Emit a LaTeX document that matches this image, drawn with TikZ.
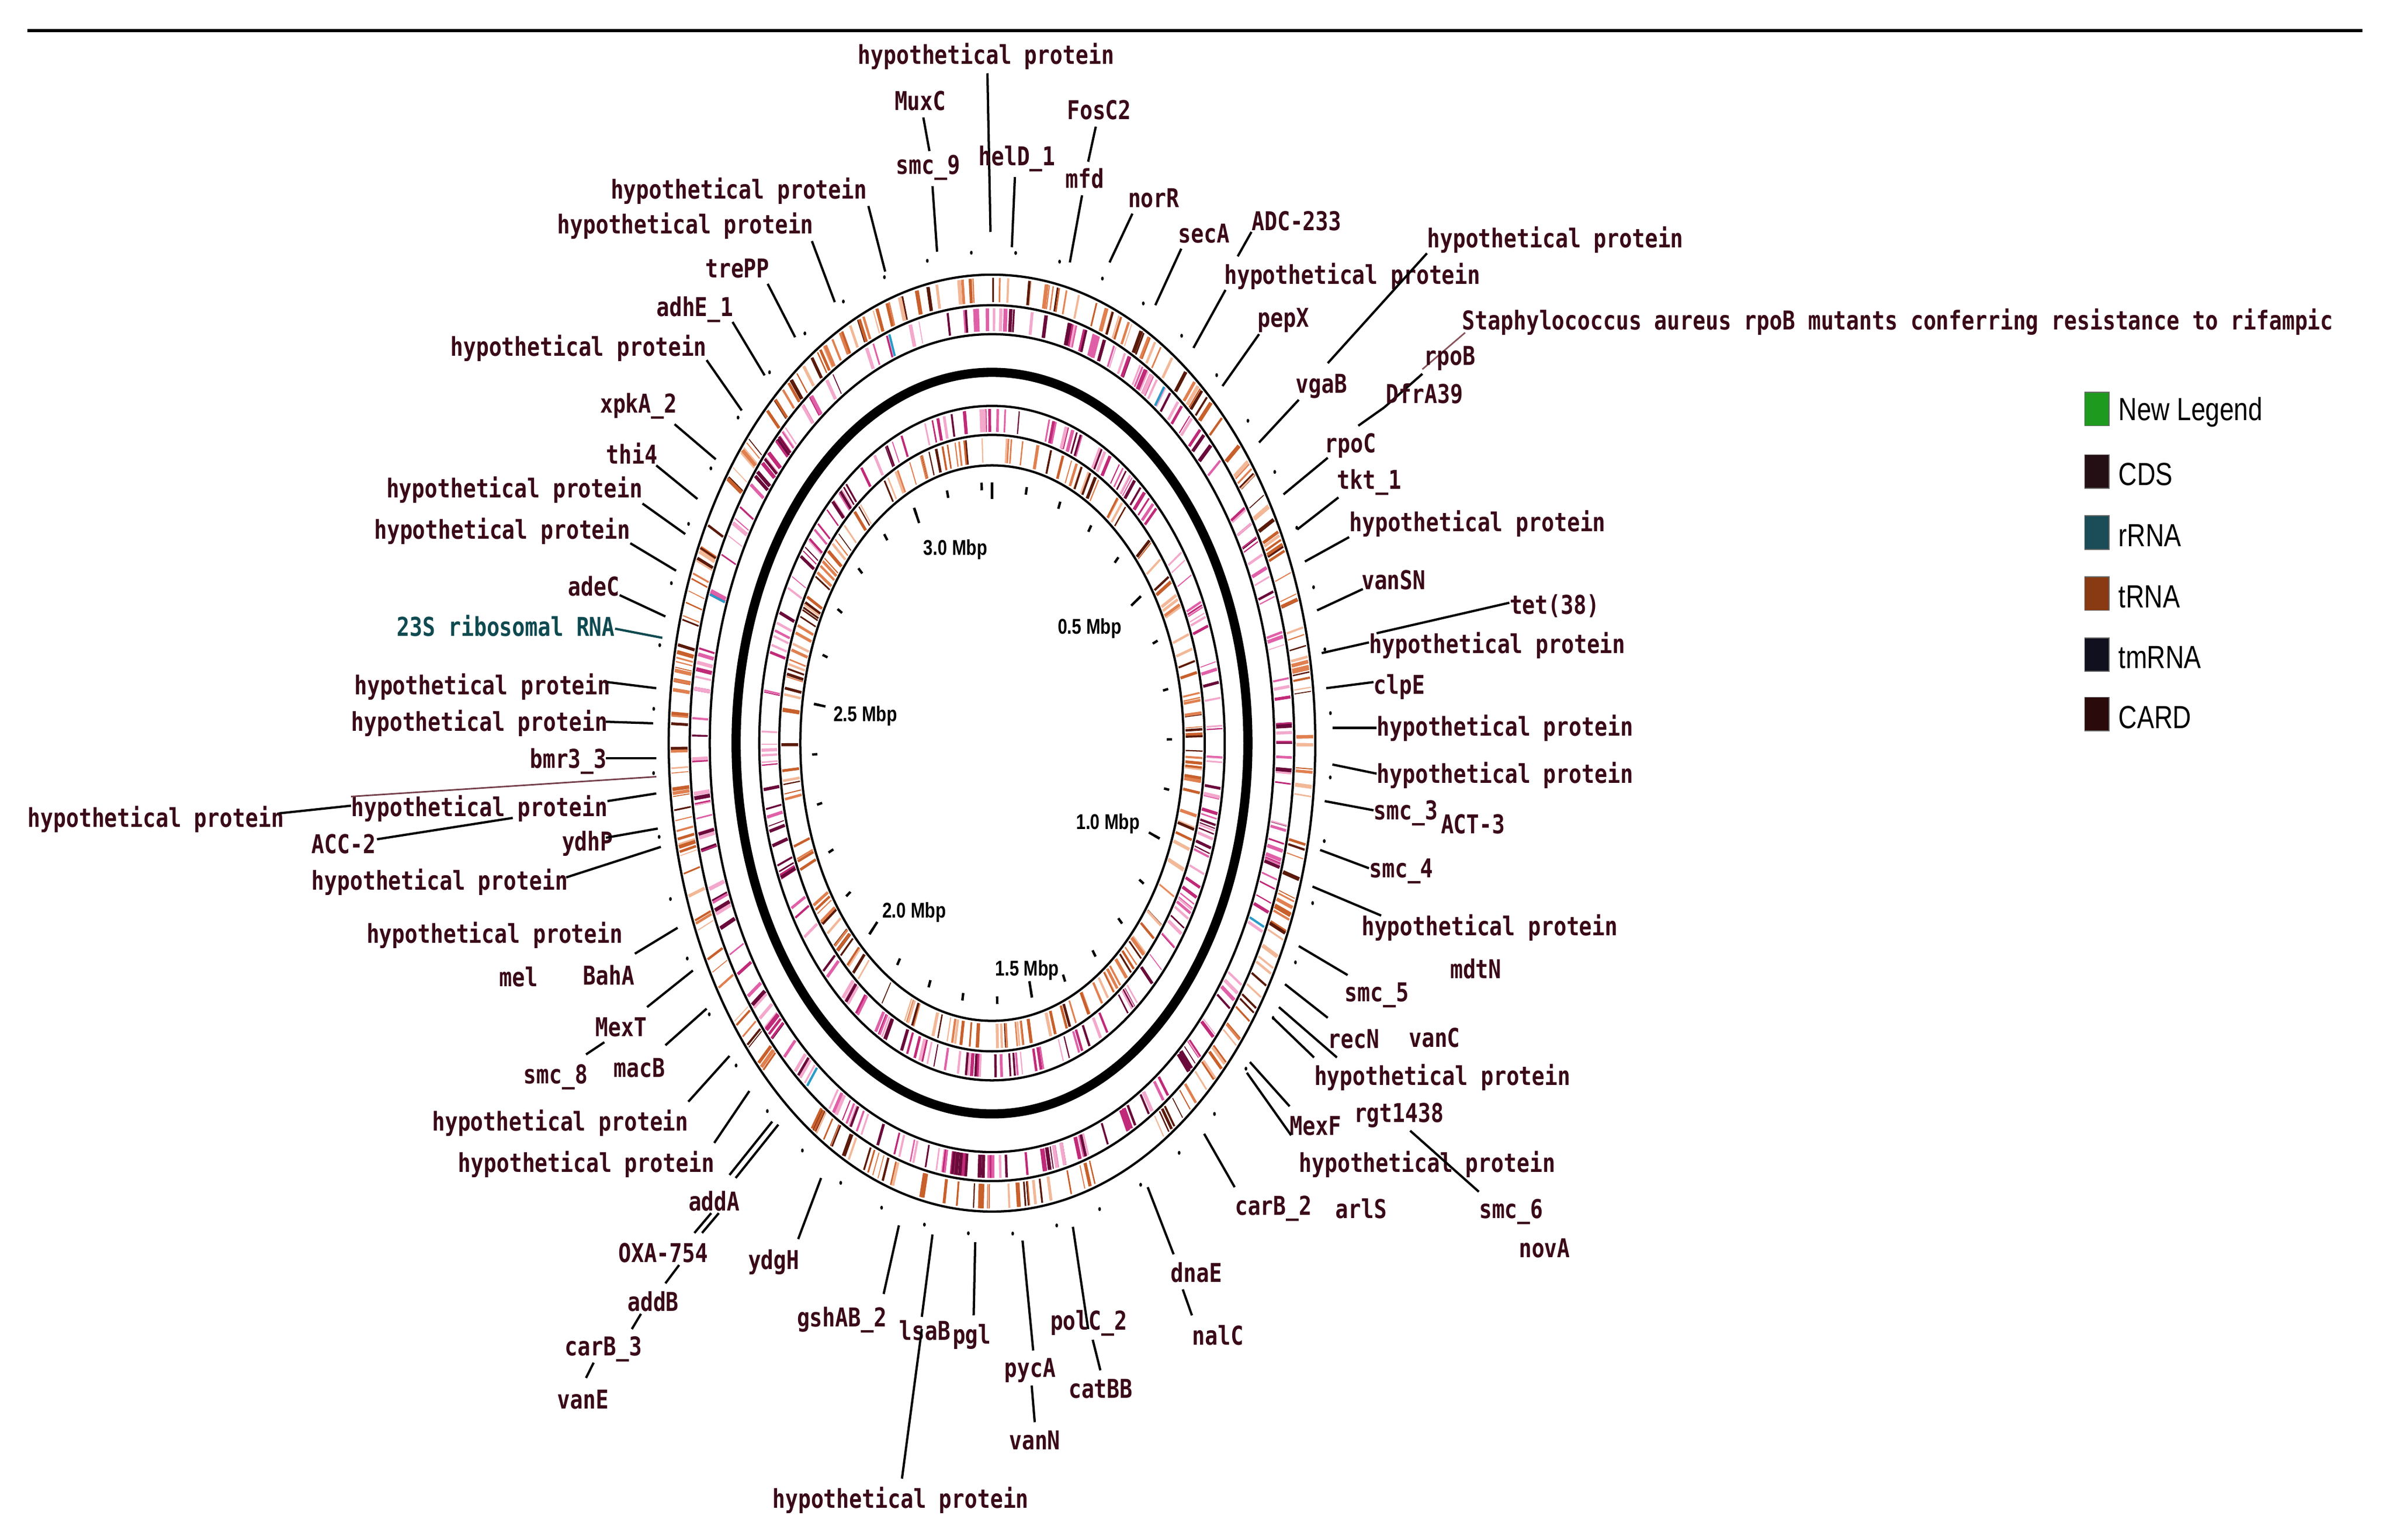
\documentclass[tikz,border=0pt]{standalone}
\usepackage{fontspec}
\newfontfamily\labfont[FakeStretch=0.82]{DejaVu Sans Mono}
\newfontfamily\legfont[FakeStretch=0.8]{Liberation Sans}
\definecolor{labcol}{HTML}{3A0A18}
\definecolor{rnacol}{HTML}{0E4A50}
\definecolor{oA}{HTML}{F2B898}
\definecolor{oB}{HTML}{C8602C}
\definecolor{oC}{HTML}{5A1A0A}
\definecolor{oD}{HTML}{E08050}
\definecolor{mA}{HTML}{F3A8CC}
\definecolor{mB}{HTML}{C02A78}
\definecolor{mC}{HTML}{6A0A3A}
\definecolor{mD}{HTML}{E060A8}
\definecolor{lgGreen}{HTML}{1E9A1E}
\definecolor{lgCDS}{HTML}{241014}
\definecolor{lgRNA}{HTML}{1A4D58}
\definecolor{lgT}{HTML}{8A3A12}
\definecolor{lgTm}{HTML}{10101E}
\definecolor{lgCard}{HTML}{2A0A0A}
\tikzset{
  lab/.style={inner sep=0pt, anchor=west, text=labcol, font=\labfont\bfseries\fontsize{17}{17}\selectfont},
  spoke/.style={draw=black, line width=1.5pt},
  ring/.style={draw=black, line width=1.5pt},
  legbox/.style={minimum width=16pt, minimum height=22pt, inner sep=0pt, draw=black!60, line width=0.6pt},
  legtxt/.style={anchor=west, inner sep=0pt, font=\legfont\fontsize{21}{21}\selectfont},
  mbp/.style={inner sep=0pt, font=\legfont\bfseries\fontsize{14}{14}\selectfont}
}
\newcommand{\genelab}[8]{%
  \node[lab] (#1) at (#2,#3) {#4};
  \coordinate (#1s) at (#5,#6);
  \coordinate (#1e) at (#7,#8);
  \draw[spoke] (#1s) -- (#1e);}
\begin{document}
\begin{tikzpicture}[x=1pt,y=-1pt]
\useasboundingbox (0,0) rectangle (1568,1009);
\fill[white] (0,0) rectangle (1568,1009);
\draw[line width=2pt] (18,20) -- (1548,20);
% ---------- rings ----------
\begin{scope}[shift={(650,487)}, xscale=0.69]
  \pgfmathsetseed{11}
  % band 1 orange (outer)
  \foreach \i in {1,...,260}{
    \pgfmathsetmacro{\a}{random(0,3600)/10}
    \pgfmathrandominteger{\c}{1}{4}
    \pgfmathsetmacro{\w}{0.6+random(0,20)/10}
    \ifcase\c\or\def\cc{oA}\or\def\cc{oB}\or\def\cc{oC}\or\def\cc{oD}\fi
    \draw[\cc, line width=\w pt] (\a:289) -- (\a:305);
  }
  % band 2 magenta
  \foreach \i in {1,...,260}{
    \pgfmathsetmacro{\a}{random(0,3600)/10}
    \pgfmathrandominteger{\c}{1}{4}
    \pgfmathsetmacro{\w}{0.6+random(0,20)/10}
    \ifcase\c\or\def\cc{mA}\or\def\cc{mB}\or\def\cc{mC}\or\def\cc{mD}\fi
    \draw[\cc, line width=\w pt] (\a:270) -- (\a:285);
  }
  % band 3 magenta inner
  \foreach \i in {1,...,200}{
    \pgfmathsetmacro{\a}{random(0,3600)/10}
    \pgfmathrandominteger{\c}{1}{4}
    \pgfmathsetmacro{\w}{0.6+random(0,16)/10}
    \ifcase\c\or\def\cc{mA}\or\def\cc{mB}\or\def\cc{mC}\or\def\cc{mD}\fi
    \draw[\cc, line width=\w pt] (\a:204) -- (\a:219);
  }
  % band 4 orange inner
  \foreach \i in {1,...,200}{
    \pgfmathsetmacro{\a}{random(0,3600)/10}
    \pgfmathrandominteger{\c}{1}{4}
    \pgfmathsetmacro{\w}{0.6+random(0,16)/10}
    \ifcase\c\or\def\cc{oA}\or\def\cc{oB}\or\def\cc{oC}\or\def\cc{oD}\fi
    \draw[\cc, line width=\w pt] (\a:184) -- (\a:200);
  }
  % a few rRNA marks
  \foreach \a in {-55,25,128,200,250}{\draw[cyan!60!teal, line width=1.5pt] (\a:270) -- (\a:285);}
  \foreach \r in {307,287,268,221,202,182}{\draw[ring] (0,0) circle (\r);}
  \draw[line width=6pt] (0,0) circle (243);
  % ticks
  \foreach \k in {0,...,32}{
    \pgfmathsetmacro{\a}{-90+\k*360/32.3}
    \draw[line width=1.6pt] (\a:171) -- (\a:166);
  }
  \foreach \k in {0,5,...,30}{
    \pgfmathsetmacro{\a}{-90+\k*360/32.3}
    \draw[line width=1.6pt] (\a:171) -- (\a:160);
  }
  % outer dots
  \foreach \k in {0,...,47}{
    \pgfmathsetmacro{\a}{-86+\k*7.5}
    \fill (\a:322) circle (1.3);
  }
\end{scope}
% scale labels
\node[mbp] (s30) at (626,360) {3.0 Mbp};
\node[mbp] (s05) at (714,412) {0.5 Mbp};
\node[mbp] (s25) at (567,469) {2.5 Mbp};
\node[mbp] (s10) at (726,540) {1.0 Mbp};
\node[mbp] (s20) at (599,598) {2.0 Mbp};
\node[mbp] (s15) at (673,636) {1.5 Mbp};
% ---------- gene labels: top ----------
\genelab{t1}{562}{37}{hypothetical protein}{647}{48}{649}{152}
\genelab{t2}{586}{66}{MuxC}{605}{77}{609}{99}
\genelab{t3}{587}{110}{smc\_9}{611}{122}{614}{165}
\genelab{t4}{641}{104}{helD\_1}{665}{116}{663}{162}
\genelab{t5}{699}{72}{FosC2}{718}{83}{713}{106}
\genelab{t6}{698}{117}{mfd}{709}{128}{701}{172}
\genelab{t7}{739}{130}{norR}{742}{140}{727}{172}
\genelab{t8}{772}{153}{secA}{774}{163}{757}{200}
\genelab{t9}{820}{145}{ADC-233}{820}{152}{811}{168}
\genelab{t10}{802}{181}{hypothetical protein}{803}{190}{782}{228}
\genelab{t11}{824}{210}{pepX}{825}{219}{801}{253}
\genelab{t12}{935}{157}{hypothetical protein}{935}{166}{870}{238}
\genelab{t13}{849}{253}{vgaB}{851}{262}{825}{290}
\node[lab] (staph) at (958,211) {Staphylococcus aureus rpoB mutants conferring resistance to rifampic};
\draw[spoke, draw=labcol!60!pink, line width=1pt] (960,218) -- (932,242);
\genelab{t14}{933}{235}{rpoB}{932}{245}{907}{267}
\genelab{t15}{908}{258}{DfrA39}{907}{267}{890}{279}
\genelab{t16}{868}{292}{rpoC}{870}{300}{841}{324}
\genelab{t17}{876}{316}{tkt\_1}{877}{326}{850}{347}
\genelab{t18}{884}{343}{hypothetical protein}{884}{352}{855}{368}
\genelab{t19}{892}{380}{vanSN}{893}{386}{863}{400}
\genelab{t20}{989}{397}{tet(38)}{989}{395}{902}{415}
% ---------- right ----------
\genelab{r1}{897}{423}{hypothetical protein}{897}{421}{866}{428}
\genelab{r2}{900}{450}{clpE}{900}{447}{869}{451}
\genelab{r3}{902}{477}{hypothetical protein}{902}{477}{873}{477}
\genelab{r4}{902}{508}{hypothetical protein}{902}{507}{873}{501}
\genelab{r5}{900}{533}{smc\_3}{900}{531}{868}{525}
\node[lab] (r6) at (944,540) {ACT-3};
\genelab{r7}{897}{571}{smc\_4}{897}{569}{865}{557}
\genelab{r8}{892}{608}{hypothetical protein}{905}{600}{860}{581}
\node[lab] (r9) at (950,635) {mdtN};
\genelab{r10}{881}{652}{smc\_5}{883}{639}{851}{620}
\genelab{r11}{923}{680}{vanC}{870}{667}{842}{645}
\genelab{r12}{870}{681}{recN}{876}{693}{838}{660}
\genelab{r13}{861}{706}{hypothetical protein}{861}{693}{834}{667}
\genelab{r14}{845}{738}{MexF}{845}{725}{819}{696}
\genelab{r15}{887}{731}{rgt1438}{846}{744}{817}{703}
\genelab{r16}{851}{763}{hypothetical protein}{969}{781}{924}{741}
\node[lab] (r17) at (969,794) {smc\_6};
\genelab{r18}{809}{792}{carB\_2}{809}{778}{789}{743}
\node[lab] (r19) at (875,792) {arlS};
\node[lab] (r20) at (995,818) {novA};
% ---------- bottom ----------
\genelab{b1}{490}{827}{ydgH}{523}{812}{538}{772}
\genelab{b2}{522}{865}{gshAB\_2}{579}{848}{589}{803}
\genelab{b3}{589}{872}{lsaB}{604}{863}{611}{809}
\genelab{b4}{506}{983}{hypothetical protein}{591}{969}{604}{871}
\genelab{b5}{624}{876}{pgl}{638}{862}{639}{814}
\genelab{b6}{658}{898}{pycA}{677}{885}{670}{813}
\genelab{b7}{661}{944}{vanN}{678}{932}{676}{908}
\genelab{b8}{688}{867}{polC\_2}{713}{871}{703}{804}
\genelab{b9}{700}{910}{catBB}{721}{898}{716}{878}
\genelab{b10}{767}{834}{dnaE}{769}{822}{752}{778}
\genelab{b11}{781}{875}{nalC}{781}{862}{775}{845}
% ---------- left bottom ----------
\genelab{l1}{240}{613}{hypothetical protein}{416}{625}{444}{608}
\node[lab] (l2) at (327,640) {mel};
\genelab{l3}{382}{639}{BahA}{424}{660}{454}{636}
\genelab{l4}{390}{673}{MexT}{384}{691}{396}{683}
\node[lab] (l5) at (343,706) {smc\_8};
\genelab{l6}{402}{700}{macB}{436}{685}{463}{661}
\genelab{l7}{283}{736}{hypothetical protein}{451}{722}{478}{692}
\genelab{l8}{300}{763}{hypothetical protein}{468}{749}{491}{715}
\genelab{l9}{451}{787}{addA}{478}{770}{506}{735}
\draw[spoke] (482,772) -- (510,737);
\genelab{l10}{405}{821}{OXA-754}{455}{808}{466}{795}
\draw[spoke] (460,808) -- (471,795);
\genelab{l11}{411}{853}{addB}{436}{841}{445}{829}
\genelab{l12}{370}{884}{carB\_3}{414}{871}{420}{861}
\genelab{l13}{365}{917}{vanE}{384}{903}{389}{893}
% ---------- left ----------
\genelab{w1}{400}{125}{hypothetical protein}{569}{135}{580}{178}
\genelab{w2}{365}{148}{hypothetical protein}{532}{158}{547}{198}
\genelab{w3}{462}{176}{trePP}{503}{186}{521}{221}
\genelab{w4}{430}{203}{adhE\_1}{480}{211}{501}{246}
\genelab{w5}{295}{228}{hypothetical protein}{463}{236}{486}{269}
\genelab{w6}{393}{266}{xpkA\_2}{442}{278}{469}{301}
\genelab{w7}{397}{297}{thi4}{430}{305}{457}{327}
\genelab{w8}{253}{321}{hypothetical protein}{421}{330}{449}{350}
\genelab{w9}{245}{348}{hypothetical protein}{413}{356}{443}{374}
\genelab{w10}{372}{384}{adeC}{406}{390}{436}{404}
\node[lab, text=rnacol] (w11) at (260,410) {23S ribosomal RNA};
\draw[spoke, draw=rnacol] (403,412) -- (434,418);
\genelab{w12}{232}{450}{hypothetical protein}{398}{447}{430}{451}
\genelab{w13}{230}{474}{hypothetical protein}{397}{473}{428}{474}
\genelab{w14}{347}{499}{bmr3\_3}{397}{497}{430}{497}
\genelab{w15}{230}{530}{hypothetical protein}{398}{525}{430}{520}
\genelab{w16}{18}{537}{hypothetical protein}{183}{533}{230}{528}
\draw[spoke, line width=1pt, draw=labcol!70!pink] (230,522) -- (430,509);
\genelab{w17}{204}{553}{ACC-2}{247}{550}{336}{536}
\genelab{w18}{368}{553}{ydhP}{397}{549}{431}{543}
\genelab{w19}{204}{578}{hypothetical protein}{371}{575}{433}{555}
% ---------- legend ----------
\node[legbox, fill=lgGreen] (g1) at (1374,268) {};
\node[legbox, fill=lgCDS] (g2) at (1374,309) {};
\node[legbox, fill=lgRNA] (g3) at (1374,349) {};
\node[legbox, fill=lgT] (g4) at (1374,389) {};
\node[legbox, fill=lgTm] (g5) at (1374,429) {};
\node[legbox, fill=lgCard] (g6) at (1374,468) {};
\node[legtxt] at (1388,270) {New Legend};
\node[legtxt] at (1388,311) {CDS};
\node[legtxt] at (1388,351) {rRNA};
\node[legtxt] at (1388,391) {tRNA};
\node[legtxt] at (1388,431) {tmRNA};
\node[legtxt] at (1388,470) {CARD};
\end{tikzpicture}
\end{document}
